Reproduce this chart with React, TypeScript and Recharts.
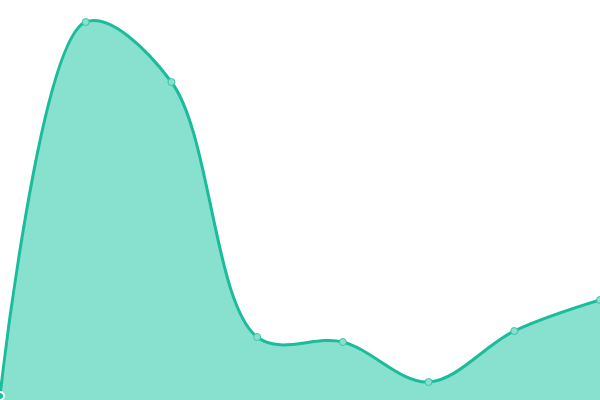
import { AreaChart, Area, XAxis, YAxis } from "recharts";

const labels = ["A", "B", "C", "D", "E", "F", "G", "H"];
const values = [4, 378, 318, 63, 58, 18, 69, 100];

const data = labels.map((label, i) => ({ label, value: values[i] }));

// centripetal catmull-rom, same maths as d3 curveCatmullRom.alpha(0.5)
function catmullRom(alpha: number) {
  return (ctx: any) => {
    const eps = 1e-12;
    let x0 = NaN, x1 = NaN, x2 = NaN, y0 = NaN, y1 = NaN, y2 = NaN;
    let l01a = 0, l12a = 0, l23a = 0, l012a = 0, l122a = 0, l232a = 0;
    let pt = 0;
    let line = NaN;
    const seg = (x: number, y: number) => {
      let cx1 = x1, cy1 = y1, cx2 = x2, cy2 = y2;
      if (l01a > eps) {
        const a = 2 * l012a + 3 * l01a * l12a + l122a;
        const n = 3 * l01a * (l01a + l12a);
        cx1 = (x1 * a - x0 * l122a + x2 * l012a) / n;
        cy1 = (y1 * a - y0 * l122a + y2 * l012a) / n;
      }
      if (l23a > eps) {
        const b = 2 * l232a + 3 * l23a * l12a + l122a;
        const m = 3 * l23a * (l23a + l12a);
        cx2 = (x2 * b + x1 * l232a - x * l122a) / m;
        cy2 = (y2 * b + y1 * l232a - y * l122a) / m;
      }
      ctx.bezierCurveTo(cx1, cy1, cx2, cy2, x2, y2);
    };
    const api = {
      areaStart() { line = 0; },
      areaEnd() { line = NaN; },
      lineStart() {
        x0 = x1 = x2 = y0 = y1 = y2 = NaN;
        l01a = l12a = l23a = l012a = l122a = l232a = 0;
        pt = 0;
      },
      lineEnd() {
        if (pt === 2) ctx.lineTo(x2, y2);
        else if (pt === 3) api.point(x2, y2);
        if (line || (line !== 0 && pt === 1)) ctx.closePath();
        line = 1 - line;
      },
      point(x: number, y: number) {
        x = +x; y = +y;
        if (pt) {
          const dx = x2 - x, dy = y2 - y;
          l232a = Math.pow(dx * dx + dy * dy, alpha);
          l23a = Math.sqrt(l232a);
        }
        if (pt === 0) {
          pt = 1;
          line ? ctx.lineTo(x, y) : ctx.moveTo(x, y);
        } else if (pt === 1) {
          pt = 2;
        } else {
          pt = 3;
          seg(x, y);
        }
        l01a = l12a; l12a = l23a;
        l012a = l122a; l122a = l232a;
        x0 = x1; x1 = x2; x2 = x;
        y0 = y1; y1 = y2; y2 = y;
      },
    };
    return api;
  };
}

const smooth = catmullRom(0.5);

export default function App() {
  return (
    <div style={{ position: "absolute", top: 0, left: 0, width: 600, height: 400 }}>
      <AreaChart width={600} height={400} data={data} margin={{ top: 0, right: 0, bottom: 0, left: 0 }}>
        <XAxis dataKey="label" hide />
        <YAxis hide domain={[0, 400]} />
        <Area
          type={smooth as any}
          dataKey="value"
          stroke="#1abc9c"
          strokeWidth={3}
          fill="#88e0cf"
          fillOpacity={1}
          dot={{ r: 3.5, fill: "#88e0cf", stroke: "#3cc4a6", strokeWidth: 1, fillOpacity: 1 }}
          isAnimationActive={false}
        />
      </AreaChart>
    </div>
  );
}
